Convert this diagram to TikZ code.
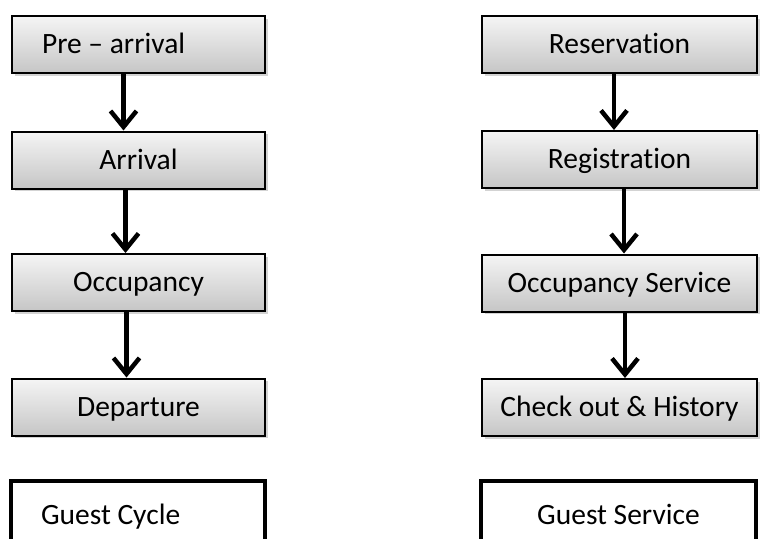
\documentclass[tikz,border=0pt]{standalone}
\usepackage{fontspec}
\setmainfont{Carlito}[Ligatures={TeX,NoCommon}]
\usetikzlibrary{arrows.meta,shadows}

\tikzset{
    stage/.style={rectangle, draw=black, line width=2pt, top color=gray!8, bottom color=gray!45,
        minimum height=57pt, inner sep=0pt, text height=24pt, text depth=6pt,
        font=\fontsize{29.5}{34}\selectfont,
        drop shadow={shadow xshift=2.5pt, shadow yshift=-2.5pt, opacity=0.35}},
    title/.style={rectangle, draw=black, line width=4pt, fill=white, minimum height=68pt,
        inner sep=0pt, text height=24pt, text depth=6pt, font=\fontsize{29.5}{34}\selectfont},
    flow/.style={draw=black, line width=4.5pt, -{Straight Barb[length=16pt 0,width=26pt 0]}}
}

\begin{document}
\begin{tikzpicture}[x=1pt, y=-1pt]
    \path[use as bounding box, clip] (0,0) rectangle (760,538);

    \node[stage, minimum width=253pt, text width=193pt, inner xsep=30pt, align=flush left] (prearr) at (138.5,44.5) {Pre – arrival};
    \node[stage, minimum width=253pt] (arr) at (138.5,160) {Arrival};
    \node[stage, minimum width=253pt] (occ) at (138.5,282.5) {Occupancy};
    \node[stage, minimum width=253pt] (dep) at (138.5,407) {Departure};

    \node[stage, minimum width=275pt] (res) at (619.5,44.5) {Reservation};
    \node[stage, minimum width=275pt] (reg) at (619.5,159.5) {Registration};
    \node[stage, minimum width=275pt] (occserv) at (619.5,283) {Occupancy Service};
    \node[stage, minimum width=275pt] (checkout) at (619.5,407.5) {Check out \& History};

    \node[title, minimum width=254pt, text width=194pt, inner xsep=30pt, align=flush left] (cycle) at (138,515) {Guest Cycle};
    \node[title, minimum width=275pt] (service) at (618.5,515) {Guest Service};

    \foreach \a/\b/\s in {prearr/arr/-15, arr/occ/-13, occ/dep/-12, res/reg/-5.5, reg/occserv/4.5, occserv/checkout/5.5}
        \draw[flow] ([xshift=\s pt]\a.south) -- ([xshift=\s pt]\b.north);

\end{tikzpicture}
\end{document}
